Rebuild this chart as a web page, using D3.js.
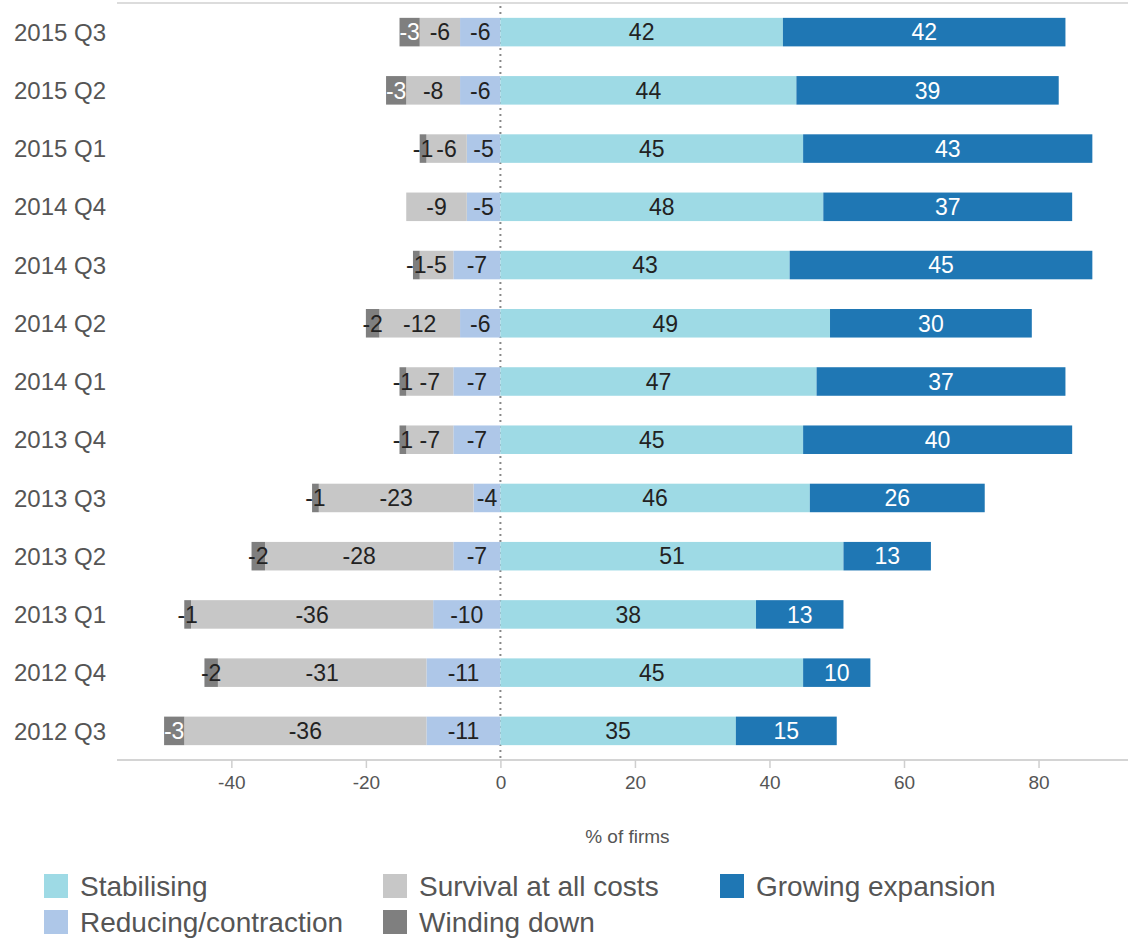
<!DOCTYPE html>
<html>
<head>
<meta charset="utf-8">
<script src="https://cdn.jsdelivr.net/npm/d3@7"></script>
<style>
  html, body { margin: 0; padding: 0; background: #fff; }
  svg { display: block; font-family: "Liberation Sans", Arial, sans-serif; }
</style>
</head>
<body>
<svg id="chart" width="1128" height="939"></svg>
<script>
// ---- data ----
const categories = ["2015 Q3","2015 Q2","2015 Q1","2014 Q4","2014 Q3","2014 Q2","2014 Q1","2013 Q4","2013 Q3","2013 Q2","2013 Q1","2012 Q4","2012 Q3"];
const windingDown   = [-3,-3,-1, 0,-1,-2,-1,-1,-1,-2,-1,-2,-3];
const survival      = [-6,-8,-6,-9,-5,-12,-7,-7,-23,-28,-36,-31,-36];
const reducing      = [-6,-6,-5,-5,-7,-6,-7,-7,-4,-7,-10,-11,-11];
const stabilising   = [42,44,45,48,43,49,47,45,46,51,38,45,35];
const growing       = [42,39,43,37,45,30,37,40,26,13,13,10,15];
const xTicks = [-40,-20,0,20,40,60,80];
const axisTitle = "% of firms";

const series = [
  {name:"Reducing/contraction", values: reducing,    color:"#aec7e8", side:"neg"},
  {name:"Survival at all costs", values: survival,   color:"#c7c7c7", side:"neg"},
  {name:"Winding down",          values: windingDown, color:"#7f7f7f", side:"neg", dark:true},
  {name:"Stabilising",           values: stabilising, color:"#9edae5", side:"pos"},
  {name:"Growing expansion",     values: growing,     color:"#1f77b4", side:"pos", dark:true}
];
const legendOrder = [
  ["Stabilising","Survival at all costs","Growing expansion"],
  ["Reducing/contraction","Winding down"]
];

// ---- scales ----
const svg = d3.select("#chart");
const x = d3.scaleLinear().domain([-57, 93.3]).range([117, 1128]);
const y = d3.scaleBand().domain(categories).range([3, 760]).paddingInner(0.51).paddingOuter(0.255);

// top border line
svg.append("line").attr("x1", 117).attr("x2", 1128).attr("y1", 3).attr("y2", 3)
  .attr("stroke", "#dcdcdc").attr("stroke-width", 2);

// zero dotted line
svg.append("line").attr("x1", x(0)).attr("x2", x(0)).attr("y1", 6).attr("y2", 760)
  .attr("stroke", "#888").attr("stroke-width", 2).attr("stroke-dasharray", "2,4");

// ---- segments ----
const segs = [];
categories.forEach((c, i) => {
  let neg = 0, pos = 0;
  series.forEach(s => {
    const v = s.values[i];
    if (v === 0) return;
    let x0, x1;
    if (s.side === "neg") { x0 = neg + v; x1 = neg; neg = x0; }
    else { x0 = pos; x1 = pos + v; pos = x1; }
    segs.push({cat: c, v, x0, x1, s});
  });
});

const g = svg.append("g");
g.selectAll("rect").data(segs).join("rect")
  .attr("x", d => x(d.x0))
  .attr("width", d => x(d.x1) - x(d.x0))
  .attr("y", d => y(d.cat))
  .attr("height", y.bandwidth())
  .attr("fill", d => d.s.color);

g.selectAll("text.val").data(segs).join("text")
  .attr("class", "val")
  .attr("x", d => (x(d.x0) + x(d.x1)) / 2)
  .attr("y", d => y(d.cat) + y.bandwidth() / 2)
  .attr("dy", "0.36em")
  .attr("text-anchor", "middle")
  .attr("font-size", 23)
  .attr("fill", d => (d.s.dark && (x(d.x1) - x(d.x0)) >= 18) ? "#ffffff" : "#222")
  .text(d => d.v);

// ---- category labels ----
svg.append("g").selectAll("text").data(categories).join("text")
  .attr("x", 14)
  .attr("y", d => y(d) + y.bandwidth() / 2)
  .attr("dy", "0.36em")
  .attr("font-size", 24)
  .attr("fill", "#555")
  .text(d => d);

// ---- x axis ----
const axisG = svg.append("g").attr("transform", "translate(0,760)");
axisG.call(d3.axisBottom(x).tickValues(xTicks).tickSize(8).tickPadding(8).tickFormat(d => String(d)));
axisG.select(".domain").attr("stroke", "#d4d4d4").attr("stroke-width", 2).attr("d", "M117,0H1128");
axisG.selectAll(".tick line").attr("stroke", "#cfcfcf").attr("stroke-width", 1.5);
axisG.selectAll(".tick text").attr("font-size", 19).attr("fill", "#555")
  .attr("font-family", "'Liberation Sans', Arial, sans-serif");

svg.append("text").attr("x", x(0) + 127).attr("y", 843)
  .attr("text-anchor", "middle").attr("font-size", 19).attr("fill", "#555")
  .text(axisTitle);

// ---- legend ----
const colX = [44, 383, 720];
const rowY = [886, 922];
const colorOf = n => series.find(s => s.name === n).color;
const leg = svg.append("g");
legendOrder.forEach((row, ri) => {
  row.forEach((name, ci) => {
    leg.append("rect").attr("x", colX[ci]).attr("y", rowY[ri] - 12)
      .attr("width", 24).attr("height", 24).attr("fill", colorOf(name));
    leg.append("text").attr("x", colX[ci] + 36).attr("y", rowY[ri])
      .attr("dy", "0.36em").attr("font-size", 28).attr("fill", "#555").text(name);
  });
});
</script>
</body>
</html>
